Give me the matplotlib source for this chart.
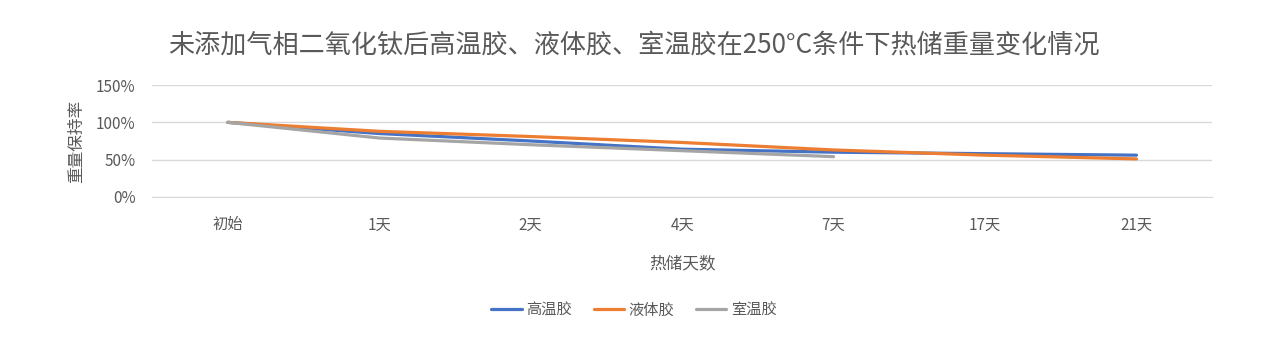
import matplotlib
matplotlib.use('Agg')
import matplotlib.pyplot as plt
from matplotlib.ticker import PercentFormatter

plt.rcParams['font.family'] = ['Noto Sans CJK SC', 'DejaVu Sans']

# 热储天数
days = ['初始', '1天', '2天', '4天', '7天', '17天', '21天']
# 重量保持率 (%)
gaowen = [100, 85, 75, 64, 60, 58, 56]
yeti = [100, 88, 81, 73, 63, 56, 51]
shiwen = [100, 79, 70, 62, 54]

text_color = '#595959'
grid_color = '#d9d9d9'

fig = plt.figure(figsize=(12.68, 3.62), dpi=100)
ax = fig.add_axes([0.12, 0.456, 0.836, 0.309])

x = list(range(len(days)))
ax.plot(x, gaowen, color='#4472C4', lw=2.3, solid_capstyle='round', label='高温胶')
ax.plot(x, yeti, color='#ED7D31', lw=2.3, solid_capstyle='round', label='液体胶')
ax.plot(x[:len(shiwen)], shiwen, color='#A5A5A5', lw=2.3, solid_capstyle='round', label='室温胶')

ax.set_xlim(-0.5, len(days) - 0.5)
ax.set_ylim(0, 150)
ax.set_yticks([0, 50, 100, 150])
ax.yaxis.set_major_formatter(PercentFormatter(decimals=0))
ax.set_xticks(x)
ax.set_xticklabels(days)
ax.grid(axis='y', color=grid_color, lw=1)
ax.set_axisbelow(True)
for s in ['top', 'right', 'left']:
    ax.spines[s].set_visible(False)
ax.spines['bottom'].set_color(grid_color)
ax.tick_params(axis='both', length=0, labelsize=11, colors=text_color)
ax.tick_params(axis='x', pad=14)
ax.tick_params(axis='y', pad=12)

ax.set_xlabel('热储天数', fontsize=12, color=text_color, labelpad=16)
ax.set_ylabel('重量保持率', fontsize=12, color=text_color, labelpad=8)

fig.text(0.5, 0.875, '未添加气相二氧化钛后高温胶、液体胶、室温胶在250°C条件下热储重量变化情况',
         ha='center', va='center', fontsize=18.8, color=text_color)

fig.legend(loc='center', bbox_to_anchor=(0.5, 0.143), ncol=3, frameon=False,
           fontsize=11, labelcolor=text_color, handlelength=2.0, columnspacing=1.4,
           handletextpad=0.3)

fig.savefig('out.png', dpi=100)
